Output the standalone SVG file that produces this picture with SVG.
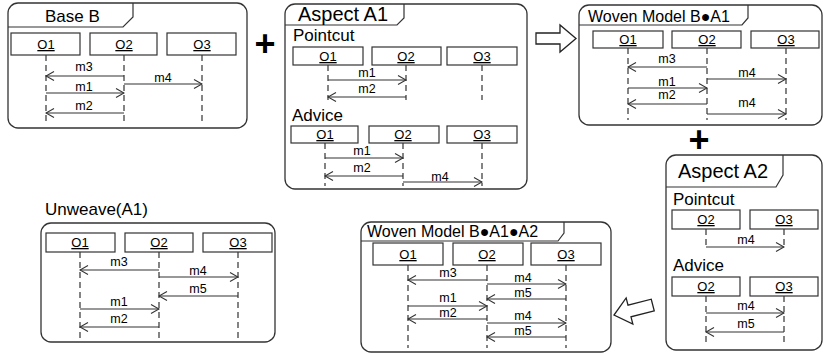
<svg xmlns="http://www.w3.org/2000/svg" width="823" height="354" viewBox="0 0 823 354">
<style>
text{font-family:"Liberation Sans",Arial,sans-serif;fill:#000}
.frame{fill:#fff;stroke:#333;stroke-width:1.3}
.tab{fill:none;stroke:#333;stroke-width:1.2}
.box{fill:#fff;stroke:#333;stroke-width:1.2}
.on{font-size:13px;text-anchor:middle;text-decoration:underline}
.ll{stroke:#333;stroke-width:1.2;stroke-dasharray:6 4;fill:none}
.msg{stroke:#333;stroke-width:1.1;fill:none;marker-end:url(#ah)}
.ml{font-size:12.5px;text-anchor:middle}
.t17{font-size:17px}
.t16{font-size:16px}
.t20{font-size:20px}
.plus{font-size:36px;font-weight:bold;text-anchor:middle}
.hollow{fill:#fff;stroke:#222;stroke-width:1.3}
</style>
<defs>
<marker id="ah" viewBox="-10 -6 11 12" markerWidth="11" markerHeight="12" refX="0" refY="0" markerUnits="userSpaceOnUse" orient="auto">
<path d="M-8,-4.5 L0,0 L-8,4.5" fill="none" stroke="#333" stroke-width="1.1"/>
</marker>
</defs>

<!-- Base B -->
<g id="base-b">
<rect class="frame" x="8" y="3" width="239" height="125" rx="10"/>
<path class="tab" d="M8,27 H123 L133,17 V3"/>
<text class="t17" x="45" y="22">Base B</text>
<g id="bb-o1"><rect class="box" x="11" y="33" width="69" height="22"/><text class="on" x="46" y="49">O1</text></g>
<g id="bb-o2"><rect class="box" x="90" y="33" width="67" height="22"/><text class="on" x="124" y="49">O2</text></g>
<g id="bb-o3"><rect class="box" x="167" y="33" width="69" height="22"/><text class="on" x="202" y="49">O3</text></g>
<path class="ll" d="M46,55 V125 M124,55 V125 M202,55 V125"/>
<g>
<path class="msg" d="M124,76 H46"/><text class="ml" x="84" y="71">m3</text>
<path class="msg" d="M124,84 H202"/><text class="ml" x="163" y="82">m4</text>
<path class="msg" d="M46,93 H124"/><text class="ml" x="84" y="91">m1</text>
<path class="msg" d="M124,113 H46"/><text class="ml" x="84" y="110">m2</text>
</g>
</g>

<!-- Aspect A1 -->
<g id="aspect-a1">
<rect class="frame" x="285" y="4" width="242" height="185" rx="10"/>
<path class="tab" d="M285,25 H397 L404,18 V4"/>
<text class="t20" x="298" y="21">Aspect A1</text>
<text class="t17" x="293" y="41">Pointcut</text>
<g id="a1p-o1"><rect class="box" x="293" y="47" width="70" height="18"/><text class="on" x="328" y="61">O1</text></g>
<g id="a1p-o2"><rect class="box" x="372" y="47" width="69" height="18"/><text class="on" x="406" y="61">O2</text></g>
<g id="a1p-o3"><rect class="box" x="447" y="47" width="70" height="18"/><text class="on" x="482" y="61">O3</text></g>
<path class="ll" d="M328,65 V100 M406,65 V100 M482,65 V100"/>
<g>
<path class="msg" d="M328,80 H406"/><text class="ml" x="367" y="77">m1</text>
<path class="msg" d="M406,97 H328"/><text class="ml" x="367" y="93">m2</text>
</g>
<text class="t17" x="292" y="121">Advice</text>
<g id="a1a-o1"><rect class="box" x="291" y="126" width="67" height="17"/><text class="on" x="325" y="139">O1</text></g>
<g id="a1a-o2"><rect class="box" x="369" y="126" width="70" height="17"/><text class="on" x="403" y="139">O2</text></g>
<g id="a1a-o3"><rect class="box" x="447" y="126" width="70" height="17"/><text class="on" x="482" y="139">O3</text></g>
<path class="ll" d="M325,143 V186 M403,143 V186 M482,143 V186"/>
<g>
<path class="msg" d="M325,158 H403"/><text class="ml" x="362" y="155">m1</text>
<path class="msg" d="M403,176 H325"/><text class="ml" x="362" y="172">m2</text>
<path class="msg" d="M403,182 H482"/><text class="ml" x="440" y="181">m4</text>
</g>
</g>

<!-- Woven Model B.A1 -->
<g id="woven-b-a1">
<rect class="frame" x="579" y="5" width="243" height="120" rx="10"/>
<path class="tab" d="M579,25 H742 L748,18 V5"/>
<text class="t16" x="588" y="22">Woven Model B●A1</text>
<g id="w1-o1"><rect class="box" x="593" y="31" width="70" height="17"/><text class="on" x="628" y="44">O1</text></g>
<g id="w1-o2"><rect class="box" x="672" y="31" width="69" height="17"/><text class="on" x="707" y="44">O2</text></g>
<g id="w1-o3"><rect class="box" x="751" y="31" width="68" height="17"/><text class="on" x="786" y="44">O3</text></g>
<path class="ll" d="M628,48 V120 M707,48 V120 M786,48 V120"/>
<g>
<path class="msg" d="M707,67 H628"/><text class="ml" x="667" y="63">m3</text>
<path class="msg" d="M707,79 H786"/><text class="ml" x="747" y="77">m4</text>
<path class="msg" d="M628,88 H707"/><text class="ml" x="667" y="86">m1</text>
<path class="msg" d="M707,104 H628"/><text class="ml" x="667" y="99">m2</text>
<path class="msg" d="M707,114 H786"/><text class="ml" x="747" y="107">m4</text>
</g>
</g>

<!-- Aspect A2 -->
<g id="aspect-a2">
<rect class="frame" x="666" y="155" width="156" height="195" rx="10"/>
<path class="tab" d="M666,187 H776 L783,175 V155"/>
<text class="t20" x="678" y="178">Aspect A2</text>
<text class="t17" x="673" y="205">Pointcut</text>
<g id="a2p-o2"><rect class="box" x="672" y="210" width="68" height="19"/><text class="on" x="706" y="224">O2</text></g>
<g id="a2p-o3"><rect class="box" x="750" y="210" width="68" height="19"/><text class="on" x="784" y="224">O3</text></g>
<path class="ll" d="M706,229 V248 M784,229 V248"/>
<g>
<path class="msg" d="M706,247 H784"/><text class="ml" x="746" y="244">m4</text>
</g>
<text class="t17" x="673" y="271">Advice</text>
<g id="a2a-o2"><rect class="box" x="672" y="277" width="68" height="19"/><text class="on" x="706" y="291">O2</text></g>
<g id="a2a-o3"><rect class="box" x="750" y="277" width="68" height="19"/><text class="on" x="784" y="291">O3</text></g>
<path class="ll" d="M706,296 V346 M784,296 V346"/>
<g>
<path class="msg" d="M706,313 H784"/><text class="ml" x="746" y="310">m4</text>
<path class="msg" d="M784,332 H706"/><text class="ml" x="746" y="328">m5</text>
</g>
</g>

<!-- Woven Model B.A1.A2 -->
<g id="woven-b-a1-a2">
<rect class="frame" x="361" y="222" width="250" height="130" rx="10"/>
<path class="tab" d="M361,241 H558 L564,233 V222"/>
<text class="t16" x="367" y="237">Woven Model B●A1●A2</text>
<g id="w2-o1"><rect class="box" x="373" y="243" width="70" height="22"/><text class="on" x="408" y="259">O1</text></g>
<g id="w2-o2"><rect class="box" x="453" y="243" width="70" height="22"/><text class="on" x="487" y="259">O2</text></g>
<g id="w2-o3"><rect class="box" x="531" y="243" width="70" height="22"/><text class="on" x="566" y="259">O3</text></g>
<path class="ll" d="M408,265 V348 M487,265 V348 M566,265 V348"/>
<g>
<path class="msg" d="M487,280 H408"/><text class="ml" x="448" y="277">m3</text>
<path class="msg" d="M487,284 H566"/><text class="ml" x="523" y="282">m4</text>
<path class="msg" d="M566,299 H487"/><text class="ml" x="523" y="297">m5</text>
<path class="msg" d="M408,306 H487"/><text class="ml" x="448" y="302">m1</text>
<path class="msg" d="M487,319 H408"/><text class="ml" x="448" y="317">m2</text>
<path class="msg" d="M487,323 H566"/><text class="ml" x="523" y="320">m4</text>
<path class="msg" d="M566,337 H487"/><text class="ml" x="523" y="335">m5</text>
</g>
</g>

<!-- Unweave(A1) -->
<g id="unweave-a1">
<text class="t17" x="45" y="215">Unweave(A1)</text>
<rect class="frame" x="41" y="223" width="234" height="119" rx="10"/>
<g id="u-o1"><rect class="box" x="46" y="233" width="69" height="19"/><text class="on" x="80" y="247">O1</text></g>
<g id="u-o2"><rect class="box" x="125" y="233" width="68" height="19"/><text class="on" x="159" y="247">O2</text></g>
<g id="u-o3"><rect class="box" x="203" y="233" width="69" height="19"/><text class="on" x="238" y="247">O3</text></g>
<path class="ll" d="M80,252 V338 M159,252 V338 M238,252 V338"/>
<g>
<path class="msg" d="M159,270 H80"/><text class="ml" x="119" y="266">m3</text>
<path class="msg" d="M159,277 H238"/><text class="ml" x="198" y="275">m4</text>
<path class="msg" d="M238,296 H159"/><text class="ml" x="198" y="293">m5</text>
<path class="msg" d="M80,309 H159"/><text class="ml" x="119" y="306">m1</text>
<path class="msg" d="M159,327 H80"/><text class="ml" x="119" y="323">m2</text>
</g>
</g>

<!-- connectors between diagrams -->
<g id="connectors">
<text class="plus" x="265" y="56">+</text>
<text class="plus" x="699" y="152">+</text>
<polygon class="hollow" points="536,33 560,33 560,25 576,38.5 560,52 560,44 536,44"/>
<polygon class="hollow" transform="translate(614,315) rotate(165.6)" points="-40,-6 -16,-6 -16,-13.5 0,0 -16,13.5 -16,6 -40,6"/>
</g>
</svg>
